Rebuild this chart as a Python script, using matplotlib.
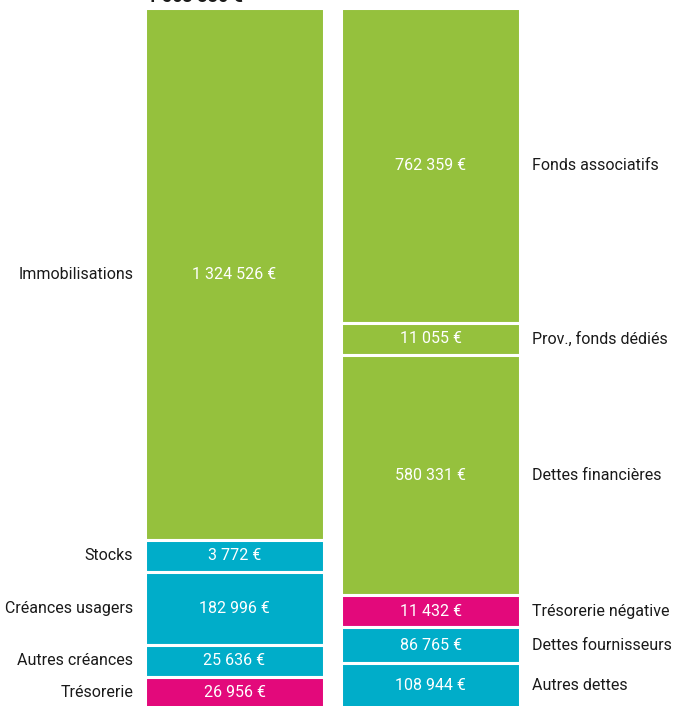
import matplotlib
matplotlib.use("Agg")
import matplotlib.pyplot as plt
import numpy as np

# Actif (left column), top to bottom
actif_labels = ["Immobilisations", "Stocks", "Créances usagers", "Autres créances", "Trésorerie"]
actif_values = [1324526, 3772, 182996, 25636, 26956]
actif_kinds = ["immo", "circ", "circ", "circ", "treso"]

# Passif (right column), top to bottom
passif_labels = ["Fonds associatifs", "Prov., fonds dédiés", "Dettes financières",
                 "Trésorerie négative", "Dettes fournisseurs", "Autres dettes"]
passif_values = [762359, 11055, 580331, 11432, 86765, 108944]
passif_kinds = ["immo", "immo", "immo", "treso", "circ", "circ"]

total_label = "1 563 886 €"

colors = {"immo": "#95c13d", "circ": "#00adc9", "treso": "#e3097b"}
FONT = ["Roboto", "DejaVu Sans"]
MIN_SHARE = 0.05  # small items get a minimum visible height


def display_shares(values):
    v = np.asarray(values, dtype=float)
    share = np.maximum(v / v.sum(), MIN_SHARE)
    return share / share.sum()


def fmt(v):
    return f"{v:,}".replace(",", " ") + " €"


fig = plt.figure(figsize=(6.74, 7.06), dpi=100)
ax = fig.add_axes([0, -0.003, 1, 0.992])
ax.set_xlim(-1.196, 2.242)
ax.set_ylim(1, 0)
ax.axis("off")

width = 0.913
for pos, labels, values, kinds in [
    (0, actif_labels, actif_values, actif_kinds),
    (1, passif_labels, passif_values, passif_kinds),
]:
    heights = display_shares(values)
    tops = np.concatenate([[0], np.cumsum(heights)[:-1]])
    ax.bar([pos] * len(values), heights, bottom=tops, width=width,
           color=[colors[k] for k in kinds], edgecolor="white", linewidth=2.2)
    for lab, val, top, h in zip(labels, values, tops, heights):
        mid = top + h / 2
        ax.text(pos, mid, fmt(val), color="white", ha="center", va="center",
                fontsize=11.5, family=FONT)
        if pos == 0:
            ax.text(pos - width / 2 - 0.06, mid, lab, ha="right", va="center",
                    fontsize=11.5, family=FONT, color="#1a1a1a")
        else:
            ax.text(pos + width / 2 + 0.06, mid, lab, ha="left", va="center",
                    fontsize=11.5, family=FONT, color="#1a1a1a")

# total, mostly cut off at the top edge
fig.text(147 / 674, 1 - 1.5 / 706, total_label, ha="left", va="baseline",
         fontsize=13, fontweight="bold", family=FONT, color="#1a1a1a")

fig.savefig("out.png", dpi=100)
